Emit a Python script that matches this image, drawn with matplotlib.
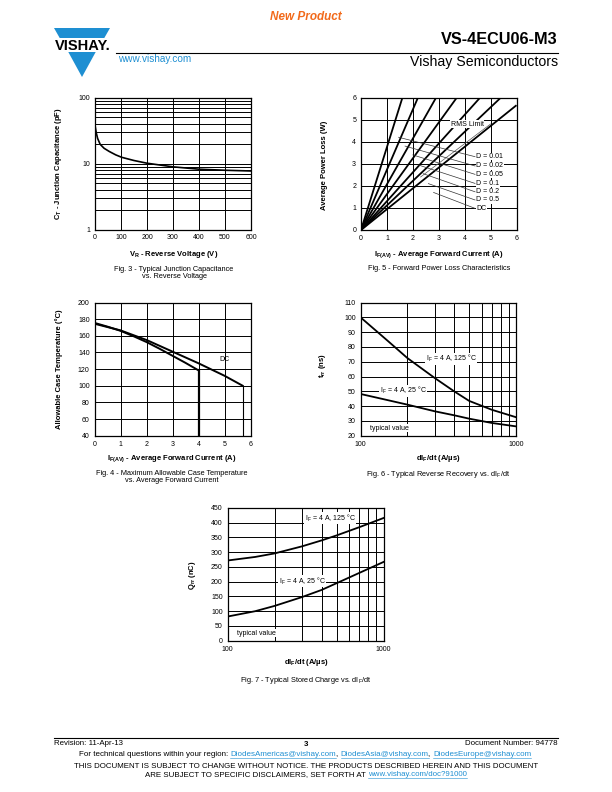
import matplotlib
matplotlib.use("Agg")
import matplotlib.pyplot as plt
from matplotlib.patches import Polygon
from matplotlib.ticker import LogLocator, NullFormatter, FixedLocator, FixedFormatter

plt.rcParams['font.family'] = ['Liberation Sans', 'DejaVu Sans']
plt.rcParams['mathtext.fontset'] = 'custom'
plt.rcParams['mathtext.rm'] = 'Liberation Sans'
plt.rcParams['mathtext.bf'] = 'Liberation Sans:bold'
plt.rcParams['mathtext.it'] = 'Liberation Sans:italic'

W, H = 612, 792
BLUE = '#1e8fd2'
ORANGE = '#f26a1b'

# ---- values ----
# Fig. 3 - junction capacitance vs reverse voltage
cap_vr = [0, 5, 10, 20, 35, 55, 80, 103, 150, 200, 300, 400, 500, 600]
cap_pf = [38, 29, 24, 19.5, 17, 15.2, 13.5, 12.4, 11.1, 10.1, 8.9, 8.2, 7.9, 7.7]

# Fig. 5 - forward power loss (lines from origin to end point)
loss_labels = ['D = 0.01', 'D = 0.02', 'D = 0.05', 'D = 0.1', 'D = 0.2', 'D = 0.5', 'DC']
loss_end_i = [1.6, 2.2, 2.9, 3.7, 4.6, 5.4, 6.0]
loss_end_p = [6, 6, 6, 6, 6, 6, 5.65]
rms_i = [2.3, 5.0]
rms_p = [2.4, 4.8]
lead_i = [1.45, 1.7, 2.0, 2.2, 2.4, 2.6, 2.8]
lead_p = [4.2, 3.8, 3.4, 2.95, 2.55, 2.1, 1.7]
lab_p = [3.32, 2.9, 2.52, 2.11, 1.73, 1.36, 0.98]

# Fig. 4 - allowable case temperature
tc_i_sq = [0, 0.5, 1, 1.5, 2, 2.5, 3, 3.5, 4]
tc_t_sq = [175.5, 171, 166, 159.5, 152.5, 144.5, 136, 127.5, 118.5]
tc_i_dc = [0, 1, 2, 3, 4, 5, 5.7]
tc_t_dc = [174.5, 166.5, 155, 141, 127, 112, 100]

# Fig. 6 - reverse recovery time
di_dt = [100, 150, 200, 300, 400, 500, 700, 1000]
trr_125 = [100, 84, 72.5, 59, 50, 43.5, 37.5, 32.5]
trr_25 = [48.2, 44, 41, 36.5, 33.8, 31.5, 28.6, 26.3]

# Fig. 7 - stored charge
qrr_125 = [272, 284, 296, 320, 340, 357, 385, 416]
qrr_25 = [82, 100, 118, 148, 172, 195, 230, 267]

fig = plt.figure(figsize=(W / 100, H / 100), dpi=100)


def px_axes(l, t, r, b):
    return fig.add_axes([l / W, 1 - b / H, (r - l) / W, (b - t) / H])


def style(ax):
    ax.tick_params(which='both', length=0, labelsize=5, pad=3.5)
    for s in ax.spines.values():
        s.set_linewidth(0.9)
    ax.grid(True, which='both', color='black', lw=0.7)
    ax.set_axisbelow(True)


# Fig. 3
ax3 = px_axes(95, 97.5, 251, 229.5)
ax3.set_yscale('log')
ax3.plot(cap_vr, cap_pf, color='black', lw=1.2)
ax3.set_xlim(0, 600)
ax3.set_ylim(1, 100)
ax3.set_xticks(range(0, 700, 100))
ax3.yaxis.set_major_locator(FixedLocator([1, 10, 100]))
ax3.yaxis.set_major_formatter(FixedFormatter(['1', '10', '100']))
ax3.yaxis.set_minor_locator(LogLocator(subs=range(2, 10)))
ax3.yaxis.set_minor_formatter(NullFormatter())
style(ax3)

# Fig. 5
ax5 = px_axes(361, 97.5, 516.5, 230)
for xe, ye in zip(loss_end_i, loss_end_p):
    ax5.plot([0, xe], [0, ye], color='black', lw=1.3, solid_capstyle='butt')
ax5.plot(rms_i, rms_p, color='#555555', lw=0.5)
ax5.text(4.1, 4.8, 'RMS Limit', size=5, ha='center', va='center',
         bbox=dict(facecolor='white', edgecolor='none', pad=0.3))
for li, lp, yp, lab in zip(lead_i, lead_p, lab_p, loss_labels):
    ax5.plot([li, 4.4], [lp, yp], color='#333333', lw=0.5)
    ax5.text(4.45, yp, lab, size=5, ha='left', va='center',
             bbox=dict(facecolor='white', edgecolor='none', pad=0.2))
ax5.set_xlim(0, 6)
ax5.set_ylim(0, 6)
ax5.set_xticks(range(7))
ax5.set_yticks(range(7))
style(ax5)

# Fig. 4
ax4 = px_axes(94.5, 302.5, 250.5, 435.7)
ax4.plot(tc_i_sq, tc_t_sq, color='black', lw=1.4)
ax4.plot([tc_i_sq[-1], tc_i_sq[-1]], [tc_t_sq[-1], 40], color='black', lw=1.6)
ax4.plot(tc_i_dc, tc_t_dc, color='black', lw=1.4)
ax4.plot([tc_i_dc[-1], tc_i_dc[-1]], [tc_t_dc[-1], 40], color='black', lw=0.8)
ax4.text(5.0, 131, 'DC', size=5, ha='center', va='center')
ax4.set_xlim(0, 6)
ax4.set_ylim(40, 200)
ax4.set_xticks(range(7))
ax4.set_yticks(range(40, 201, 20))
style(ax4)


def didt_axes(ax):
    ax.set_xscale('log')
    ax.set_xlim(100, 1000)
    ax.xaxis.set_major_locator(FixedLocator([100, 1000]))
    ax.xaxis.set_major_formatter(FixedFormatter(['100', '1000']))
    ax.xaxis.set_minor_locator(FixedLocator(range(200, 1000, 100)))
    ax.xaxis.set_minor_formatter(NullFormatter())
    style(ax)


# Fig. 6
ax6 = px_axes(360.5, 302.5, 516, 435.7)
ax6.plot(di_dt, trr_125, color='black', lw=1.3)
ax6.plot(di_dt, trr_25, color='black', lw=1.3)
ax6.set_ylim(20, 110)
ax6.set_yticks(range(20, 111, 10))
didt_axes(ax6)
box = dict(facecolor='white', edgecolor='none', pad=0.3)
ax6.text(262, 72, 'I$_\\mathrm{F}$ = 4 A, 125 °C', size=5, ha='left', va='center', bbox=box)
ax6.text(133, 50.5, 'I$_\\mathrm{F}$ = 4 A, 25 °C', size=5, ha='left', va='center', bbox=box)
ax6.text(115, 25.2, 'typical value', size=5, ha='left', va='center', bbox=box)

# Fig. 7
ax7 = px_axes(227.7, 508, 383.5, 640.7)
ax7.plot(di_dt, qrr_125, color='black', lw=1.3)
ax7.plot(di_dt, qrr_25, color='black', lw=1.3)
ax7.set_ylim(0, 450)
ax7.set_yticks(range(0, 451, 50))
didt_axes(ax7)
ax7.text(313, 416, 'I$_\\mathrm{F}$ = 4 A, 125 °C', size=5, ha='left', va='center', bbox=box)
ax7.text(213, 201, 'I$_\\mathrm{F}$ = 4 A, 25 °C', size=5, ha='left', va='center', bbox=box)
ax7.text(115, 26, 'typical value', size=5, ha='left', va='center', bbox=box)

# page overlay in pixel coordinates
ax0 = fig.add_axes([0, 0, 1, 1], zorder=10)
ax0.set_xlim(0, W)
ax0.set_ylim(H, 0)
ax0.axis('off')


def T(x, y, s, **kw):
    kw.setdefault('va', 'center')
    kw.setdefault('size', 5.5)
    return ax0.text(x, y, s, **kw)


# header
T(306, 17, 'New Product', color=ORANGE, size=8.5, weight='bold', style='italic', ha='center')
T(558, 40, 'VS-4ECU06-M3', size=11.7, weight='bold', ha='right')
ax0.plot([116, 558], [52.5, 52.5], color='black', lw=0.8)
T(118, 58.5, 'www.vishay.com', color=BLUE, size=7.2, ha='left')
T(558, 62, 'Vishay Semiconductors', size=10.2, ha='right')
ax0.add_patch(Polygon([(54, 28), (110, 28), (104.3, 38), (59.7, 38)], color=BLUE, lw=0))
ax0.add_patch(Polygon([(68.3, 52), (95.7, 52), (82, 77)], color=BLUE, lw=0))
T(82.5, 45.5, 'VISHAY.', size=10.5, weight='bold', ha='center')

# axis labels and captions
T(59, 163.5, 'C$_\\mathbf{T}$ - Junction Capacitance (pF)', weight='bold', rotation=90, ha='center')
T(174, 255, 'V$_\\mathbf{R}$ - Reverse Voltage (V)', weight='bold', ha='center')
T(174, 273, 'Fig. 3 - Typical Junction Capacitance\nvs. Reverse Voltage', size=5.3, ha='center',
  linespacing=1.1)

T(325, 165, 'Average Power Loss (W)', weight='bold', rotation=90, ha='center')
T(439, 254.5, 'I$_\\mathbf{F(AV)}$ - Average Forward Current (A)', weight='bold', ha='center')
T(439, 269, 'Fig. 5 - Forward Power Loss Characteristics', size=5.3, ha='center')

T(59, 369, 'Allowable Case Temperature (°C)', weight='bold', rotation=90, ha='center')
T(172, 458.5, 'I$_\\mathbf{F(AV)}$ - Average Forward Current (A)', weight='bold', ha='center')
T(172, 477, 'Fig. 4 - Maximum Allowable Case Temperature\nvs. Average Forward Current', size=5.3,
  ha='center', linespacing=1.1)

T(323, 366, 't$_\\mathbf{rr}$ (ns)', weight='bold', rotation=90, ha='center')
T(438, 458.5, 'dI$_\\mathbf{F}$/dt (A/µs)', weight='bold', ha='center')
T(438, 474, 'Fig. 6 - Typical Reverse Recovery vs. dI$_\\mathrm{F}$/dt', size=5.3, ha='center')

T(193, 575, 'Q$_\\mathbf{rr}$ (nC)', weight='bold', rotation=90, ha='center')
T(306, 662.5, 'dI$_\\mathbf{F}$/dt (A/µs)', weight='bold', ha='center')
T(306, 681, 'Fig. 7 - Typical Stored Charge vs. dI$_\\mathrm{F}$/dt', size=5.3, ha='center')

# footer
ax0.plot([54, 558], [737.5, 737.5], color='black', lw=0.8)
T(54, 743.5, 'Revision: 11-Apr-13', ha='left', size=5.7)
T(306, 744, '3', weight='bold', ha='center', size=5.7)
T(558, 743.5, 'Document Number: 94778', ha='right', size=5.7)

renderer = fig.canvas.get_renderer()


def line_parts(xc, y, parts, size=5.8):
    objs = []
    for s, link in parts:
        t = T(0, y, s, size=size, ha='left', color=BLUE if link else 'black')
        objs.append((t, link))
    widths = [t.get_window_extent(renderer).width for t, _ in objs]
    x = xc - sum(widths) / 2
    for (t, link), w in zip(objs, widths):
        t.set_x(x)
        if link:
            ax0.plot([x, x + w], [y + 3.4, y + 3.4], color=BLUE, lw=0.4)
        x += w


line_parts(305, 755, [('For technical questions within your region: ', False),
                      ('DiodesAmericas@vishay.com', True), (', ', False),
                      ('DiodesAsia@vishay.com', True), (', ', False),
                      ('DiodesEurope@vishay.com', True)])
T(306, 767, 'THIS DOCUMENT IS SUBJECT TO CHANGE WITHOUT NOTICE. THE PRODUCTS DESCRIBED HEREIN AND THIS DOCUMENT',
  ha='center', size=5.7)
line_parts(306, 775, [('ARE SUBJECT TO SPECIFIC DISCLAIMERS, SET FORTH AT ', False),
                      ('www.vishay.com/doc?91000', True)], size=5.7)

fig.savefig('out.png', dpi=100)
